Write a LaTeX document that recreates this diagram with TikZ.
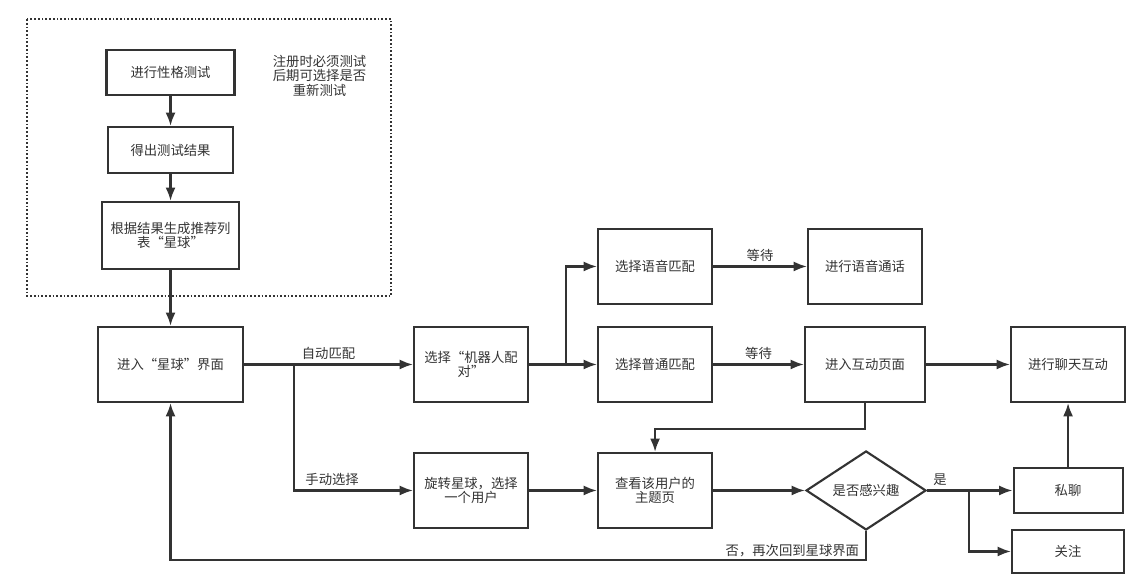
\documentclass[tikz,border=0pt]{standalone}
\usepackage{fontspec}
\setmainfont{Noto Sans CJK SC}
\usepackage{tikz}
\usetikzlibrary{calc,positioning,arrows.meta,shapes}
\definecolor{ink}{HTML}{333333}
\tikzstyle{line} = [draw=ink, line width=1.6pt, -{Latex[length=10pt,width=7.5pt]}]
\tikzstyle{box} = [rectangle, draw=ink, line width=1.6pt, text=ink, minimum width=85.5pt, minimum height=56.25pt, inner sep=2pt]
\tikzstyle{lbl} = [text=ink, inner sep=3pt]

\begin{document}
\begin{tikzpicture}[node distance=0.5cm, align=center, font=\fontsize{10}{11}\selectfont]

\node (node0) [box, minimum width=96pt, minimum height=33.75pt] {进行性格测试};
\useasboundingbox ($(node0)+(-127.9pt,54.4pt)$) rectangle ($(node0)+(731.6pt,-385.1pt)$);

\node (node1) [box, minimum width=93.75pt, minimum height=34.5pt, below of=node0, node distance=58.1pt] {得出测试结果};
\path [line] (node0) -- (node1);

\node (node2) [box, minimum width=102.75pt, minimum height=50.25pt, below of=node1, node distance=64.1pt] {根据结果生成推荐列\\表“星球”};
\path [line] (node1) -- (node2);

\node (note0) [lbl, right of=node0, node distance=111.75pt, yshift=-2.4pt] {注册时必须测试\\后期可选择是否\\重新测试};
\draw [ink, line width=1.3pt, dash pattern=on 1.3pt off 1.5pt] ($(node0)+(-107.6pt,40.1pt)$) rectangle ($(node0)+(165.4pt,-167.6pt)$);

\node (node3) [box, minimum width=108.75pt, below of=node2, node distance=96.75pt] {进入“星球”界面};
\path [line] (node2) -- (node3);

\node (node4) [box, right of=node3, node distance=225.4pt] {选择“机器人配\\对”};
\path [line] (node3) -- node [lbl, midway, above] {自动匹配} (node4);

\node (node10) [box, below of=node4, node distance=94.5pt] {旋转星球，选择\\一个用户};
\coordinate (split0) at ($(node3.east)+(37.5pt,0)$);
\path [line] (split0) |- node [lbl, pos=0.66, above] {手动选择} (node10);

\node (node5) [box, right of=node4, node distance=138pt] {选择普通匹配};
\path [line] (node4) -- (node5);

\node (node8) [box, above of=node5, node distance=73.5pt] {选择语音匹配};
\coordinate (split1) at ($(node4.east)+(27.75pt,0)$);
\path [line] (split1) |- (node8);

\node (node9) [box, right of=node8, node distance=157.5pt] {进行语音通话};
\path [line] (node8) -- node [lbl, midway, above] {等待} (node9);

\node (node6) [box, minimum width=90pt, right of=node5, node distance=157.5pt] {进入互动页面};
\path [line] (node5) -- node [lbl, midway, above] {等待} (node6);

\node (node7) [box, right of=node6, node distance=152.25pt] {进行聊天互动};
\path [line] (node6) -- (node7);

\node (node11) [box, right of=node10, node distance=138pt] {查看该用户的\\主题页};
\path [line] (node10) -- (node11);
\path [line] (node6.south) -- ++(0,-19.5pt) -| (node11.north);

\node (node12) [diamond, aspect=1.52, draw=ink, line width=1.6pt, text=ink, inner sep=0pt, minimum width=90pt, minimum height=59.25pt, right of=node11, node distance=158.25pt] {是否感兴趣};
\path [line] (node11) -- (node12);

\node (node13) [box, minimum width=81.75pt, minimum height=33.75pt, below of=node7, node distance=94.5pt] {私聊};
\path [line] (node12) -- node [lbl, pos=0.15, above] {是} (node13);
\path [line] (node13) -- (node7);

\node (node14) [box, minimum width=84pt, minimum height=32.25pt, below of=node13, node distance=45.75pt] {关注};
\coordinate (split2) at ($(node12.east)+(31.5pt,0)$);
\path [line] (split2) |- (node14);

\path [line] (node12.south) -- ++(0,-21.75pt) -| node [lbl, pos=0, above left, inner sep=1.5pt, xshift=-3pt] {否，再次回到星球界面} (node3.south);

\end{tikzpicture}
\end{document}
